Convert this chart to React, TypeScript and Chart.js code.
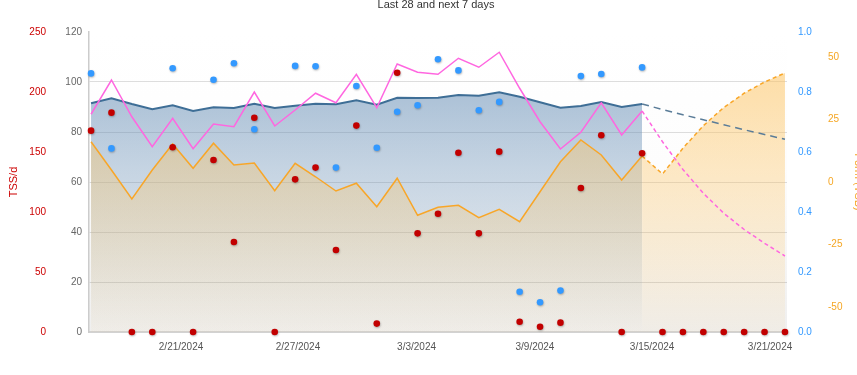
import { useEffect, useRef } from 'react';
import { Chart, registerables } from 'chart.js';

Chart.register(...registerables);

const chartTitle = 'Last 28 and next 7 days';
const todayIndex = 27;
const xMin = -0.1;
const xMax = 34.1;
const xTickPositions = [4.41, 10.14, 15.95, 21.75, 27.49, 33.27];
const xTickLabels = ['2/21/2024', '2/27/2024', '3/3/2024', '3/9/2024', '3/15/2024', '3/21/2024'];
const tsbTicks = [-50, -25, 0, 25, 50];

// Fitness (CTL), days 0..27
const ctlActual = [91.5, 93.5, 91.2, 89.1, 90.7, 88.4, 89.9, 89.6, 91.3, 89.6, 90.5, 91.3, 91.1, 92.7, 90.9, 93.7, 93.6, 93.7, 94.8, 94.5, 95.9, 94.1, 91.9, 89.7, 90.4, 92.0, 90.0, 91.2];
const ctlForecast = [91.2, 89.0, 86.9, 84.9, 82.9, 80.9, 79.0, 77.1];
// Fatigue (ATL)
const atlActual = [87.1, 100.8, 86.1, 74.1, 85.5, 73.3, 83.2, 82.1, 96.0, 82.4, 88.8, 95.5, 91.7, 103.1, 89.7, 107.2, 103.9, 103.1, 109.5, 105.9, 111.9, 97.5, 84.1, 73.2, 79.9, 91.7, 78.8, 88.4];
const atlForecast = [88.4, 76.1, 65.0, 55.5, 47.5, 41.0, 35.5, 30.4];
// Form (TSB)
const tsbActual = [16.1, 4.8, -6.8, 4.8, 15.2, 5.5, 15.5, 6.8, 7.6, -3.5, 7.5, 2.1, -3.6, -0.5, -9.9, 1.5, -13.3, -10.1, -9.3, -14.3, -10.9, -15.9, -3.9, 8.1, 16.8, 10.8, 0.8, 10.4];
const tsbForecast = [10.4, 3.2, 13.5, 22.5, 29.8, 35.5, 40.0, 43.6];
// TSS per day, days 0..34
const tssValues = [167.8, 182.8, 0, 0, 153.9, 0, 143.3, 75.0, 178.6, 0, 127.2, 137.0, 68.3, 172.0, 7.0, 216.1, 82.2, 98.6, 149.4, 82.2, 150.3, 8.6, 4.4, 7.8, 120.0, 163.9, 0, 148.9, 0, 0, 0, 0, 0, 0, 0];
// Intensity factor, days 0..27
const ifValues = [0.862, 0.612, null, null, 0.879, null, 0.841, 0.896, 0.676, null, 0.887, 0.886, 0.548, 0.82, 0.614, 0.734, 0.756, 0.909, 0.872, 0.739, 0.767, 0.134, 0.099, 0.138, 0.853, 0.86, null, 0.882];

const FONT = "'Liberation Sans', Arial, Helvetica, sans-serif";

const pts = (arr: (number | null)[], start = 0) => arr.map((v, i) => ({ x: start + i, y: v }));

function vGrad(chart: any, stops: [number, string][]) {
  const area = chart.chartArea;
  if (!area) return 'rgba(0,0,0,0)';
  const g = chart.ctx.createLinearGradient(0, area.top, 0, area.bottom);
  stops.forEach(([o, c]) => g.addColorStop(o, c));
  return g;
}

const plotBackground = {
  id: 'plotBackground',
  beforeDraw(chart: any) {
    const a = chart.chartArea;
    if (!a) return;
    const c = chart.ctx;
    c.save();
    c.fillStyle = vGrad(chart, [[0, '#ffffff'], [0.45, '#fdfdfd'], [1, '#efefef']]);
    c.fillRect(a.left, a.top, a.right - a.left, a.bottom - a.top);
    c.restore();
  },
};

const dotShadow = {
  id: 'dotShadow',
  beforeDatasetDraw(chart: any, args: any) {
    if (args.index > 1) return;
    const c = chart.ctx;
    c.save();
    c.shadowColor = 'rgba(0,0,0,0.28)';
    c.shadowBlur = 2;
    c.shadowOffsetX = 0.5;
    c.shadowOffsetY = 1;
  },
  afterDatasetDraw(chart: any, args: any) {
    if (args.index > 1) return;
    chart.ctx.restore();
  },
};

export default function App() {
  const ref = useRef<HTMLCanvasElement | null>(null);

  useEffect(() => {
    if (!ref.current) return;
    Chart.defaults.font.family = FONT;
    const chart = new Chart(ref.current, {
      type: 'line',
      data: {
        datasets: [
          {
            label: 'TSS',
            data: pts(tssValues),
            yAxisID: 'yTss',
            showLine: false,
            pointRadius: 3.3,
            pointBorderWidth: 0,
            pointBackgroundColor: '#c20000',
            clip: false,
            order: 0,
          },
          {
            label: 'IF',
            data: pts(ifValues),
            yAxisID: 'yIf',
            showLine: false,
            pointRadius: 3.3,
            pointBorderWidth: 0,
            pointBackgroundColor: '#3399ff',
            clip: false,
            order: 0,
          },
          {
            label: 'ATL',
            data: pts(atlActual),
            yAxisID: 'yCtl',
            borderColor: '#ff66e0',
            borderWidth: 1.5,
            pointRadius: 0,
            fill: false,
            order: 2,
          },
          {
            label: 'ATL forecast',
            data: pts(atlForecast, todayIndex),
            yAxisID: 'yCtl',
            borderColor: '#ff66e0',
            borderWidth: 1.5,
            borderDash: [4, 3],
            pointRadius: 0,
            fill: false,
            order: 2,
          },
          {
            label: 'CTL forecast',
            data: pts(ctlForecast, todayIndex),
            yAxisID: 'yCtl',
            borderColor: '#5a7c98',
            borderWidth: 1.5,
            borderDash: [7, 5],
            pointRadius: 0,
            fill: false,
            order: 3,
          },
          {
            label: 'TSB',
            data: pts(tsbActual),
            yAxisID: 'yTsb',
            borderColor: '#f8a628',
            borderWidth: 1.5,
            pointRadius: 0,
            fill: 'start',
            backgroundColor: (c: any) => vGrad(c.chart, [[0, 'rgba(252,196,100,0.62)'], [1, 'rgba(252,196,100,0.05)']]),
            order: 9,
          },
          {
            label: 'TSB forecast',
            data: pts(tsbForecast, todayIndex),
            yAxisID: 'yTsb',
            borderColor: '#f8a628',
            borderWidth: 1.5,
            borderDash: [4, 3],
            pointRadius: 0,
            fill: 'start',
            backgroundColor: (c: any) => vGrad(c.chart, [[0, 'rgba(252,196,100,0.64)'], [1, 'rgba(252,196,100,0.06)']]),
            order: 9,
          },
          {
            label: 'CTL',
            data: pts(ctlActual),
            yAxisID: 'yCtl',
            borderColor: '#3e6e96',
            borderWidth: 2,
            pointRadius: 0,
            fill: 'start',
            backgroundColor: (c: any) => vGrad(c.chart, [[0, 'rgba(100,140,180,0.67)'], [1, 'rgba(100,140,180,0)']]),
            order: 10,
          },
        ],
      },
      options: {
        responsive: false,
        animation: false,
        layout: { padding: 0 },
        plugins: {
          legend: { display: false },
          tooltip: { enabled: false },
          filler: { drawTime: 'beforeDatasetsDraw' },
          title: {
            display: true,
            text: chartTitle,
            color: '#333333',
            font: { size: 11, weight: 'normal', family: FONT },
            padding: { top: -2, bottom: 20.8 },
          },
        },
        scales: {
          x: {
            type: 'linear',
            min: xMin,
            max: xMax,
            grid: { display: false, drawTicks: false },
            border: { display: true, color: '#d2d2d2', width: 2 },
            afterBuildTicks: (s: any) => {
              s.ticks = xTickPositions.map((v) => ({ value: v }));
            },
            ticks: {
              autoSkip: false,
              maxRotation: 0,
              color: '#555555',
              font: { size: 10, family: FONT },
              padding: 9,
              callback: (_v: any, i: number) => xTickLabels[i],
            },
            afterFit: (s: any) => {
              s.height = 43;
            },
          },
          yTss: {
            position: 'left',
            weight: 1,
            min: 0,
            max: 250,
            grid: { display: false, drawTicks: false },
            border: { display: false },
            ticks: { stepSize: 50, color: '#cc0000', padding: 6, font: { size: 10, family: FONT } },
            title: {
              display: true,
              text: 'TSS/d',
              color: '#cc0000',
              font: { size: 11, family: FONT },
              padding: { top: 7.4, bottom: 0 },
            },
            afterFit: (s: any) => {
              s.width = 52;
            },
          },
          yCtl: {
            position: 'left',
            weight: 0,
            min: 0,
            max: 120,
            z: 1,
            grid: {
              drawTicks: false,
              lineWidth: 1,
              color: (c: any) =>
                c.tick && (c.tick.value === 0 || c.tick.value === 120) ? 'rgba(0,0,0,0)' : 'rgba(0,0,0,0.13)',
            },
            border: { color: '#cccccc', width: 1.5 },
            ticks: { stepSize: 20, color: '#666666', padding: 7, font: { size: 10, family: FONT } },
            afterFit: (s: any) => {
              s.width = 37;
            },
          },
          yIf: {
            position: 'right',
            weight: 0,
            min: 0,
            max: 1,
            grid: { display: false, drawTicks: false },
            border: { display: false },
            ticks: {
              stepSize: 0.2,
              color: '#3399ff',
              padding: 11,
              font: { size: 10, family: FONT },
              callback: (v: any) => Number(v).toFixed(1),
            },
            afterFit: (s: any) => {
              s.width = 36;
            },
          },
          yTsb: {
            position: 'right',
            weight: 1,
            min: -60,
            max: 60,
            grid: { display: false, drawTicks: false },
            border: { display: false },
            afterBuildTicks: (s: any) => {
              s.ticks = tsbTicks.map((v) => ({ value: v }));
            },
            ticks: { color: '#f5a623', padding: 5, font: { size: 10, family: FONT } },
            title: {
              display: true,
              text: 'Form (TSB)',
              color: '#f5a623',
              font: { size: 11, family: FONT },
              padding: { top: 7.4, bottom: 0 },
            },
            afterFit: (s: any) => {
              s.width = 49;
            },
          },
        },
      },
      plugins: [plotBackground, dotShadow],
    } as any);
    return () => chart.destroy();
  }, []);

  return (
    <div style={{ position: 'absolute', left: 0, top: 0, width: 857, height: 375, overflow: 'hidden' }}>
      <canvas ref={ref} width={872} height={375} style={{ display: 'block', width: 872, height: 375 }} />
    </div>
  );
}
